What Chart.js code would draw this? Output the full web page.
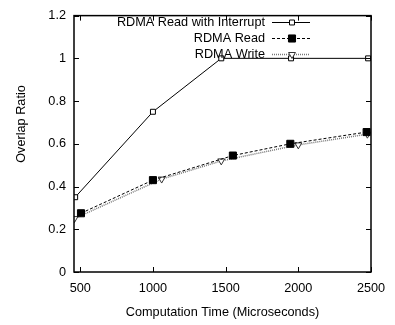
<!DOCTYPE html>
<html>
<head>
<meta charset="utf-8">
<script src="https://cdn.jsdelivr.net/npm/chart.js@4/dist/chart.umd.min.js"></script>
<style>
html,body{margin:0;padding:0;background:#fff;}
#wrap{width:395px;height:325px;}
</style>
</head>
<body>
<div id="wrap"><canvas id="c" width="395" height="325"></canvas></div>
<script>
// ---- data ----
const seriesLabels = ["RDMA Read with Interrupt", "RDMA Read", "RDMA Write"];
const interruptX = [465, 1000, 1470, 1950, 2480];
const interruptY = [0.35, 0.75, 1.0, 1.0, 1.0];
const readX = [505, 1000, 1550, 1945, 2470];
const readY = [0.275, 0.43, 0.545, 0.6, 0.655];
const writeX = [460, 1060, 1470, 2000, 2475];
const writeY = [0.25, 0.435, 0.52, 0.595, 0.645];
const xTicks = [500, 1000, 1500, 2000, 2500];
const yTicks = [0, 0.2, 0.4, 0.6, 0.8, 1, 1.2];
const xTitle = "Computation Time (Microseconds)";
const yTitle = "Overlap Ratio";

const toPts = (xs, ys) => xs.map((x, i) => ({x: x, y: ys[i]}));
const FONT = "'Liberation Sans', Arial, sans-serif";
const FS = 12.7;

const frame = {
  id: 'frame',
  afterDatasetsDraw(chart) {
    const ctx = chart.ctx, a = chart.chartArea;
    const xs = chart.scales.x, ys = chart.scales.y;
    ctx.save();
    ctx.strokeStyle = '#000';
    ctx.lineWidth = 1.5;
    ctx.strokeRect(a.left, a.top, a.right - a.left, a.bottom - a.top);
    ctx.lineWidth = 1;
    ctx.beginPath();
    xTicks.forEach(v => {
      const px = Math.round(xs.getPixelForValue(v)) + 0.5;
      ctx.moveTo(px, a.bottom); ctx.lineTo(px, a.bottom - 5);
      ctx.moveTo(px, a.top); ctx.lineTo(px, a.top + 5);
    });
    yTicks.forEach(v => {
      const py = Math.round(ys.getPixelForValue(v)) + 0.5;
      ctx.moveTo(a.left, py); ctx.lineTo(a.left + 5, py);
      ctx.moveTo(a.right, py); ctx.lineTo(a.right - 5, py);
    });
    ctx.stroke();
    // y title
    ctx.fillStyle = '#000';
    ctx.font = FS + 'px ' + FONT;
    ctx.textAlign = 'center';
    ctx.textBaseline = 'middle';
    ctx.translate(21, 124);
    ctx.rotate(-Math.PI / 2);
    ctx.fillText(yTitle, 0, 0);
    ctx.restore();
  }
};

const legend = {
  id: 'customLegend',
  afterDatasetsDraw(chart) {
    const ctx = chart.ctx;
    const rows = [22, 38, 54];
    ctx.save();
    ctx.font = FS + 'px ' + FONT;
    ctx.textAlign = 'right';
    ctx.textBaseline = 'middle';
    chart.data.datasets.forEach((ds, i) => {
      const y = rows[i];
      ctx.fillStyle = '#000';
      ctx.fillText(ds.label, 265, y);
      ctx.save();
      ctx.strokeStyle = ds.borderColor;
      ctx.lineWidth = ds.borderWidth;
      ctx.setLineDash(ds.borderDash || []);
      ctx.beginPath();
      ctx.moveTo(272, y + 0.5); ctx.lineTo(310, y + 0.5);
      ctx.stroke();
      ctx.restore();
      ctx.save();
      ctx.fillStyle = ds.pointBackgroundColor;
      ctx.strokeStyle = ds.pointBorderColor;
      ctx.lineWidth = 1;
      Chart.helpers.drawPoint(ctx, {
        pointStyle: ds.pointStyle, rotation: ds.pointRotation || 0,
        radius: ds.pointRadius, borderWidth: 1
      }, 292, y + 0.5);
      ctx.restore();
    });
    ctx.restore();
  }
};

new Chart(document.getElementById('c'), {
  type: 'line',
  data: {
    datasets: [
      {
        label: seriesLabels[0],
        data: toPts(interruptX, interruptY),
        borderColor: '#000', borderWidth: 1,
        pointStyle: 'rect', pointRadius: 3.5,
        pointBackgroundColor: '#fff', pointBorderColor: '#000', pointBorderWidth: 1,
        tension: 0
      },
      {
        label: seriesLabels[1],
        data: toPts(readX, readY),
        borderColor: '#000', borderWidth: 1, borderDash: [3, 2],
        pointStyle: 'rect', pointRadius: 5,
        pointBackgroundColor: '#000', pointBorderColor: '#000', pointBorderWidth: 1,
        tension: 0
      },
      {
        label: seriesLabels[2],
        data: toPts(writeX, writeY),
        borderColor: '#777', borderWidth: 1.5, borderDash: [1, 1],
        pointStyle: 'triangle', pointRotation: 180, pointRadius: 4,
        pointBackgroundColor: '#fff', pointBorderColor: '#333', pointBorderWidth: 1,
        tension: 0
      }
    ]
  },
  options: {
    responsive: false,
    animation: false,
    events: [],
    layout: {padding: {left: 0, right: 24, top: 13, bottom: 0}},
    plugins: {legend: {display: false}, tooltip: {enabled: false}},
    scales: {
      x: {
        type: 'linear', min: 457, max: 2500,
        afterBuildTicks: s => { s.ticks = xTicks.map(v => ({value: v})); },
        afterFit: s => { s.height = 325 - 272; },
        grid: {display: false, drawTicks: false},
        border: {display: false},
        ticks: {color: '#000', font: {family: FONT, size: FS}, padding: 9, maxRotation: 0,
          callback: v => String(v)},
        title: {display: true, text: xTitle, color: '#000', font: {family: FONT, size: FS}, padding: {top: 0, bottom: 5}}
      },
      y: {
        type: 'linear', min: 0, max: 1.2,
        afterBuildTicks: s => { s.ticks = yTicks.map(v => ({value: v})); },
        afterFit: s => { s.width = 74; },
        grid: {display: false, drawTicks: false},
        border: {display: false},
        ticks: {color: '#000', font: {family: FONT, size: FS}, padding: 8,
          callback: v => String(Math.round(v * 10) / 10)}
      }
    }
  },
  plugins: [frame, legend]
});
</script>
</body>
</html>
